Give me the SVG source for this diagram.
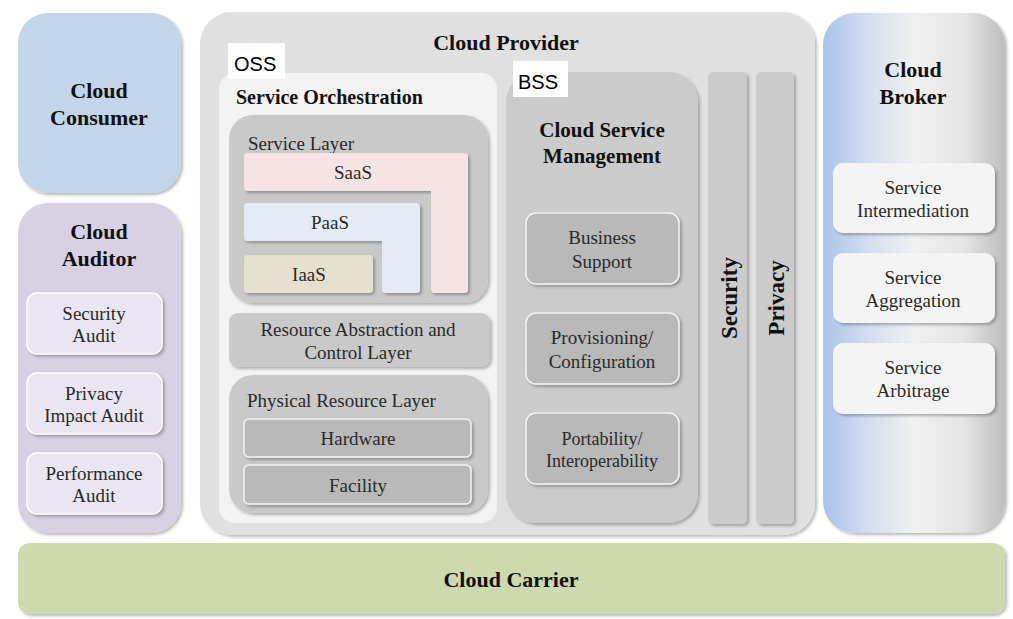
<svg xmlns="http://www.w3.org/2000/svg" width="1013" height="619" viewBox="0 0 1013 619">
<defs>
<filter id="sh" x="-10%" y="-10%" width="130%" height="130%">
<feDropShadow dx="2" dy="2" stdDeviation="1.8" flood-color="#000" flood-opacity="0.28"/>
</filter>
<linearGradient id="brk" x1="0" y1="0" x2="1" y2="0">
<stop offset="0" stop-color="#a9c4e9"/>
<stop offset="0.25" stop-color="#d3def0"/>
<stop offset="0.5" stop-color="#f1f1f1"/>
<stop offset="0.78" stop-color="#e4e4e4"/>
<stop offset="1" stop-color="#bdbdbd"/>
</linearGradient>
<style>
.t{font-family:"Liberation Serif","Times New Roman",serif;fill:#1a1a1a;text-anchor:middle}
.b{font-weight:bold;font-size:22px;fill:#111}
.r{font-size:19px;fill:#2a2a2a}
.s{font-family:"Liberation Sans",Arial,sans-serif;font-size:20px;fill:#000}
.sub{fill:#e9e6f1;stroke:#fff;stroke-width:1.5}
.gry{fill:#b9b9b9;stroke:#f4f4f4;stroke-width:1.5}
.wht{fill:#f4f4f4}
</style>
</defs>
<rect width="1013" height="619" fill="#fff"/>

<g id="cloud-consumer">
<rect x="18" y="13" width="163" height="180" rx="30" fill="#c3d5e8" filter="url(#sh)"/>
<text class="t b" x="99" y="98">Cloud</text>
<text class="t b" x="99" y="125">Consumer</text>
</g>

<g id="cloud-auditor">
<rect x="18" y="203" width="163" height="330" rx="30" fill="#d8d1e4" filter="url(#sh)"/>
<text class="t b" x="99" y="239">Cloud</text>
<text class="t b" x="99" y="266">Auditor</text>
<g id="security-audit">
<rect class="sub" x="27" y="293" width="135" height="61" rx="10" filter="url(#sh)"/>
<text class="t r" x="94" y="320">Security</text>
<text class="t r" x="94" y="342">Audit</text>
</g>
<g id="privacy-impact-audit">
<rect class="sub" x="27" y="373" width="135" height="61" rx="10" filter="url(#sh)"/>
<text class="t r" x="94" y="400">Privacy</text>
<text class="t r" x="94" y="422">Impact Audit</text>
</g>
<g id="performance-audit">
<rect class="sub" x="27" y="453" width="135" height="61" rx="10" filter="url(#sh)"/>
<text class="t r" x="94" y="480">Performance</text>
<text class="t r" x="94" y="502">Audit</text>
</g>
</g>

<g id="cloud-provider">
<rect x="200" y="12" width="615" height="523" rx="32" fill="#e0e0e0" filter="url(#sh)"/>
<text class="t b" x="506" y="50">Cloud Provider</text>

<g id="service-orchestration">
<rect x="219" y="73" width="278" height="450" rx="16" fill="#f3f3f3"/>
<rect x="228" y="43" width="57" height="36" fill="#fff"/>
<text class="s" x="234" y="71">OSS</text>
<text class="t b" x="236" y="104" style="text-anchor:start;font-size:20px">Service Orchestration</text>

<g id="service-layer">
<rect x="229" y="115" width="259" height="188" rx="24" fill="#c9c9c9" filter="url(#sh)"/>
<text class="t r" x="248" y="150" style="text-anchor:start">Service Layer</text>
<g id="saas">
<path d="M248,153 H464 Q468,153 468,157 V289 Q468,293 464,293 H435 Q431,293 431,289 V191 H248 Q244,191 244,187 V157 Q244,153 248,153 Z" fill="#f6e3e3" filter="url(#sh)"/>
<text class="t r" x="353" y="179">SaaS</text>
</g>
<g id="paas">
<path d="M248,203 H416 Q420,203 420,207 V289 Q420,293 416,293 H386 Q382,293 382,289 V241 H248 Q244,241 244,237 V207 Q244,203 248,203 Z" fill="#e4ebf5" filter="url(#sh)"/>
<text class="t r" x="330" y="229">PaaS</text>
</g>
<g id="iaas">
<rect x="244" y="255" width="129" height="38" rx="4" fill="#e5e1d1" filter="url(#sh)"/>
<text class="t r" x="309" y="281">IaaS</text>
</g>
</g>

<g id="resource-abstraction">
<rect x="229" y="313" width="261" height="54" rx="9" fill="#c9c9c9" filter="url(#sh)"/>
<text class="t r" x="358" y="336">Resource Abstraction and</text>
<text class="t r" x="358" y="359">Control Layer</text>
</g>

<g id="physical-resource-layer">
<rect x="229" y="375" width="259" height="138" rx="24" fill="#c9c9c9" filter="url(#sh)"/>
<text class="t r" x="247" y="407" style="text-anchor:start">Physical Resource Layer</text>
<g id="hardware">
<rect class="gry" x="244" y="419" width="227" height="38" rx="5" filter="url(#sh)"/>
<text class="t r" x="358" y="445">Hardware</text>
</g>
<g id="facility">
<rect class="gry" x="244" y="465" width="227" height="39" rx="5" filter="url(#sh)"/>
<text class="t r" x="358" y="492">Facility</text>
</g>
</g>
</g>

<g id="cloud-service-management">
<rect x="506" y="72" width="192" height="451" rx="30" fill="#cbcbcb" filter="url(#sh)"/>
<rect x="513" y="61" width="55" height="36" fill="#fff"/>
<text class="s" x="518" y="89">BSS</text>
<text class="t b" x="602" y="137" style="font-size:21px">Cloud Service</text>
<text class="t b" x="602" y="163" style="font-size:21px">Management</text>
<g id="business-support">
<rect class="gry" x="526" y="213" width="153" height="71" rx="10" filter="url(#sh)"/>
<text class="t r" x="602" y="244">Business</text>
<text class="t r" x="602" y="268">Support</text>
</g>
<g id="provisioning">
<rect class="gry" x="526" y="313" width="153" height="71" rx="10" filter="url(#sh)"/>
<text class="t r" x="602" y="344">Provisioning/</text>
<text class="t r" x="602" y="368">Configuration</text>
</g>
<g id="portability">
<rect class="gry" x="526" y="413" width="153" height="71" rx="10" filter="url(#sh)"/>
<text class="t r" x="602" y="445" style="font-size:18px">Portability/</text>
<text class="t r" x="602" y="467" style="font-size:18px">Interoperability</text>
</g>
</g>

<g id="security">
<rect x="708" y="72" width="39" height="452" rx="5" fill="#cbcbcb" filter="url(#sh)"/>
<text class="t b" transform="translate(737,298) rotate(-90)" style="font-size:23px">Security</text>
</g>
<g id="privacy">
<rect x="756" y="72" width="38" height="452" rx="5" fill="#cbcbcb" filter="url(#sh)"/>
<text class="t b" transform="translate(784,298) rotate(-90)" style="font-size:23px">Privacy</text>
</g>
</g>

<g id="cloud-broker">
<rect x="823" y="13" width="182" height="520" rx="32" fill="url(#brk)" filter="url(#sh)"/>
<text class="t b" x="913" y="77">Cloud</text>
<text class="t b" x="913" y="104">Broker</text>
<g id="service-intermediation">
<rect class="wht" x="833" y="163" width="162" height="70" rx="10" filter="url(#sh)"/>
<text class="t r" x="913" y="194">Service</text>
<text class="t r" x="913" y="217">Intermediation</text>
</g>
<g id="service-aggregation">
<rect class="wht" x="833" y="253" width="162" height="70" rx="10" filter="url(#sh)"/>
<text class="t r" x="913" y="284">Service</text>
<text class="t r" x="913" y="307">Aggregation</text>
</g>
<g id="service-arbitrage">
<rect class="wht" x="833" y="343" width="162" height="71" rx="10" filter="url(#sh)"/>
<text class="t r" x="913" y="374">Service</text>
<text class="t r" x="913" y="397">Arbitrage</text>
</g>
</g>

<g id="cloud-carrier">
<rect x="18" y="543" width="987" height="71" rx="12" fill="#cedaae" filter="url(#sh)"/>
<text class="t b" x="511" y="587">Cloud Carrier</text>
</g>

<g id="connectors"></g>
</svg>
